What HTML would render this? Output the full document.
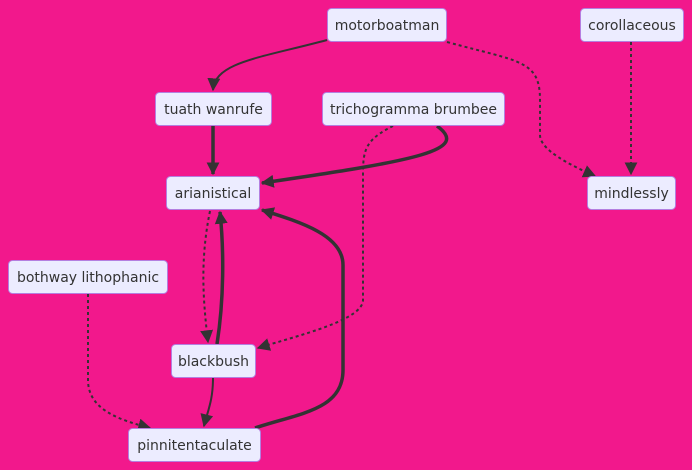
<!DOCTYPE html>
<html><head><meta charset="utf-8"><style>
html,body{margin:0;padding:0;background:#f2188c;width:692px;height:470px;overflow:hidden}
svg{display:block}
text{font-family:"DejaVu Sans","Liberation Sans",sans-serif;font-size:14px;fill:#333}
</style></head><body>
<svg width="692" height="470" viewBox="0 0 692 470" xmlns="http://www.w3.org/2000/svg">
<defs>
<marker id="b" viewBox="0 0 10 10" refX="9" refY="5" markerWidth="13" markerHeight="13" markerUnits="userSpaceOnUse" orient="auto"><path d="M0,0L10,5L0,10z" fill="#333"/></marker>
</defs>
<g fill="none" stroke="#333">
<path d="M327,40 C260,58 215,62 213,90" stroke-width="2" marker-end="url(#b)"/>
<path d="M447,42 C520,62 540,60 540,100 L540,135 C540,150 570,165 595,176" stroke-width="2" stroke-dasharray="3,3" marker-end="url(#b)"/>
<path d="M631,42 L631,174" stroke-width="2" stroke-dasharray="3,3" marker-end="url(#b)"/>
<path d="M213,126 L213,174" stroke-width="3.5" marker-end="url(#b)"/>
<path d="M437,126 C470,150 420,160 262,183" stroke-width="3.5" marker-end="url(#b)"/>
<path d="M393,126 C365,140 363,150 363,175 L363,300 C363,320 300,335 258,348" stroke-width="2" stroke-dasharray="3,3" marker-end="url(#b)"/>
<path d="M210,211 C200,260 203,300 208,342" stroke-width="2" stroke-dasharray="3,3" marker-end="url(#b)"/>
<path d="M217,344 C224,300 224,250 220,212" stroke-width="3.5" marker-end="url(#b)"/>
<path d="M213,378 C213,400 208,410 204,426" stroke-width="2" marker-end="url(#b)"/>
<path d="M88,294 L88,380 C88,410 120,420 150,428" stroke-width="2" stroke-dasharray="3,3" marker-end="url(#b)"/>
<path d="M255,428 C300,413 343,410 343,370 L343,265 C343,235 300,222 262,210" stroke-width="3.5" marker-end="url(#b)"/>
</g>
<g fill="#ececff" stroke="#b47fe0" stroke-width="1">
<rect x="327.5" y="8.5" width="119" height="33" rx="4"/>
<rect x="580.5" y="8.5" width="103" height="33" rx="4"/>
<rect x="155.5" y="92.5" width="116" height="33" rx="4"/>
<rect x="322.5" y="92.5" width="182" height="33" rx="4"/>
<rect x="166.5" y="176.5" width="93" height="33" rx="4"/>
<rect x="587.5" y="176.5" width="88" height="33" rx="4"/>
<rect x="8.5" y="260.5" width="159" height="33" rx="4"/>
<rect x="171.5" y="344.5" width="84" height="33" rx="4"/>
<rect x="128.5" y="428.5" width="132" height="33" rx="4"/>
</g>
<g text-anchor="middle">
<text x="387" y="30">motorboatman</text>
<text x="632" y="30">corollaceous</text>
<text x="213.5" y="114">tuath wanrufe</text>
<text x="413.5" y="114">trichogramma brumbee</text>
<text x="213" y="198">arianistical</text>
<text x="631.5" y="198">mindlessly</text>
<text x="88" y="282">bothway lithophanic</text>
<text x="213.5" y="366">blackbush</text>
<text x="194.5" y="450">pinnitentaculate</text>
</g>
</svg>
</body></html>
